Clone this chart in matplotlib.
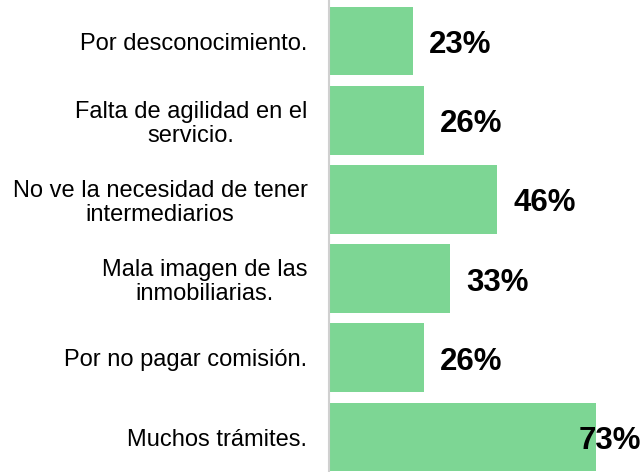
import matplotlib
matplotlib.use("Agg")
import matplotlib.pyplot as plt

categories = [
    "Por desconocimiento.",
    "Falta de agilidad en el\nservicio.",
    "No ve la necesidad de tener\nintermediarios",
    "Mala imagen de las\ninmobiliarias.",
    "Por no pagar comisión.",
    "Muchos trámites.",
]
values = [23, 26, 46, 33, 26, 73]
value_labels = ["23%", "26%", "46%", "33%", "26%", "73%"]

plt.rcParams['font.family'] = ['Liberation Sans', 'DejaVu Sans']

W, H = 644, 472
fig = plt.figure(figsize=(W / 100, H / 100), dpi=100)
left_px, right_px = 329, 644
top_px, bot_px = 1.4, 476.6
ax = fig.add_axes([left_px / W, (H - bot_px) / H, (right_px - left_px) / W, (bot_px - top_px) / H])

xmax = (right_px - left_px) / 3.66
ax.set_xlim(0, xmax)
ypos = list(range(len(values)))
ax.barh(ypos, values, height=0.87, color="#7DD694", left=0, zorder=2)
ax.set_ylim(len(values) - 0.5, -0.5)

for s in ["top", "right", "bottom"]:
    ax.spines[s].set_visible(False)
ax.spines["left"].set_color("#d0d0d0")
ax.spines["left"].set_linewidth(1.5)
ax.set_xticks([])
ax.set_yticks(ypos)
ax.set_yticklabels(categories, fontsize=17)
for t in ax.get_yticklabels():
    t.set_multialignment("center")
    t.set_linespacing(1.12)
ax.tick_params(axis="y", length=0, pad=15.5)

offset = 16 / 3.66
for y, v, lab in zip(ypos, values, value_labels):
    x = v + offset
    if x + 64 / 3.66 > xmax:
        ax.text(xmax - 3 / 3.66, y + 0.05, lab, ha="right", va="center", fontsize=22.5,
                fontweight="bold", color="black", zorder=3)
    else:
        ax.text(x, y + 0.05, lab, ha="left", va="center", fontsize=22.5,
                fontweight="bold", color="black", zorder=3)

fig.savefig("out.png", dpi=100)
